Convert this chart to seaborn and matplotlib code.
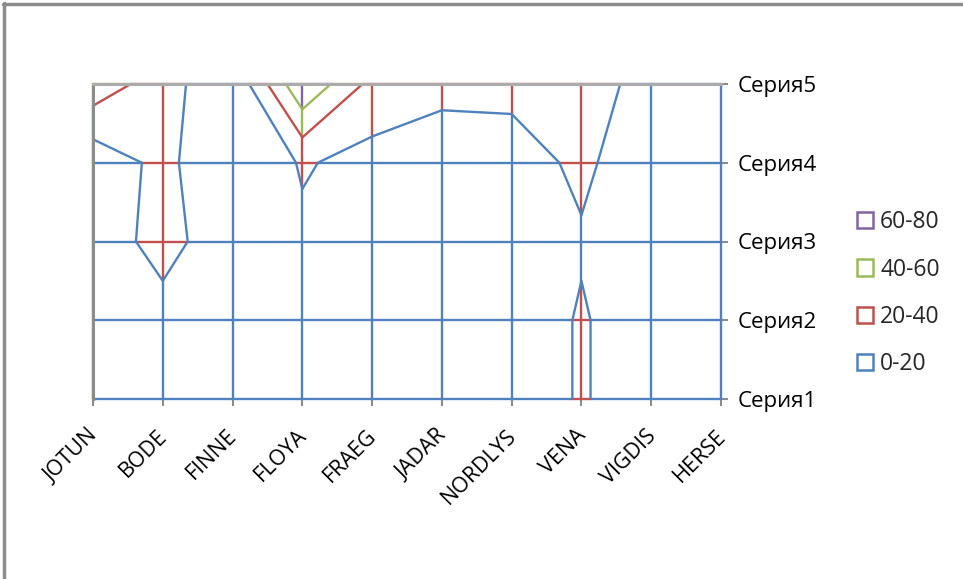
import numpy as np
import pandas as pd
import matplotlib
matplotlib.use("Agg")
import matplotlib.pyplot as plt
import matplotlib.transforms as mtransforms
from matplotlib.patches import Patch
from matplotlib.lines import Line2D
import seaborn as sns

# ---------------- data ----------------
categories = ["JOTUN", "BODE", "FINNE", "FLOYA", "FRAEG", "JADAR", "NORDLYS", "VENA", "VIGDIS", "HERSE"]
series_names = ["Серия1", "Серия2", "Серия3", "Серия4", "Серия5"]
seria1 = [5, 8, 6, 5, 6, 5, 0, 23, 0, 3]
seria2 = [6, 15, 8, 8, 7, 6, 0, 23, 0, 4]
seria3 = [12, 25, 11, 16, 10, 8, 6, 17, 5, 5]
seria4 = [6, 26, 0, 22, 13, 4, 7, 26, 0, 5]
seria5 = [53, 29, 2, 78, 34, 28, 28, 30, 12, 8]
band_labels = ["0-20", "20-40", "40-60", "60-80"]
band_edges = [0, 20, 40, 60, 80]

# ---------------- style ----------------
sns.set_theme(style="white")
plt.rcParams["font.family"] = ["Open Sans", "DejaVu Sans"]
band_colors = ["#4F81BD", "#C0504D", "#9BBB59", "#8064A2"]
gray = "#8C8C8C"
FS = 15.5

Z = np.array([seria1, seria2, seria3, seria4, seria5], dtype=float)
nrow, ncol = Z.shape
levels = band_edges[1:-1]


def band_of(v):
    return int(min(max(v // 20, 0), 3))


# build colored grid segments (wireframe) split at contour levels
rows = []
seg_id = 0


def add_edge(x0, y0, v0, x1, y1, v1):
    global seg_id
    ts = [0.0]
    lo, hi = min(v0, v1), max(v0, v1)
    for L in levels:
        if lo < L < hi:
            ts.append((L - v0) / (v1 - v0))
    ts.append(1.0)
    ts.sort()
    for a, b in zip(ts[:-1], ts[1:]):
        vm = v0 + (a + b) / 2 * (v1 - v0)
        bd = band_labels[band_of(vm)]
        for t in (a, b):
            rows.append({"x": x0 + t * (x1 - x0), "y": y0 + t * (y1 - y0),
                         "seg": seg_id, "band": bd})
        seg_id += 1


for r in range(nrow):
    for c in range(ncol - 1):
        add_edge(c, r, Z[r, c], c + 1, r, Z[r, c + 1])
for c in range(ncol):
    for r in range(nrow - 1):
        add_edge(c, r, Z[r, c], c, r + 1, Z[r + 1, c])

segs = pd.DataFrame(rows)

fig = plt.figure(figsize=(9.63, 5.79), dpi=100)
W, H = 963, 579
ax = fig.add_axes([93 / W, 1 - 399 / H, (721 - 93) / W, (399 - 84) / H])

palette = dict(zip(band_labels, band_colors))
sns.lineplot(data=segs, x="x", y="y", units="seg", hue="band", estimator=None,
             sort=False, palette=palette, legend=False, lw=1.7, ax=ax,
             clip_on=False, zorder=2)

X, Y = np.meshgrid(np.arange(ncol), np.arange(nrow))
ax.contour(X, Y, Z, levels=levels, colors=band_colors[:3], linewidths=1.7, zorder=3)

ax.set_xlim(0, ncol - 1)
ax.set_ylim(0, nrow - 1)
ax.set_xlabel("")
ax.set_ylabel("")

for side in ["right", "bottom"]:
    ax.spines[side].set_visible(False)
for side in ["left", "top"]:
    ax.spines[side].set_visible(True)
    ax.spines[side].set_color(gray)
    ax.spines[side].set_linewidth(2.2)
    ax.spines[side].set_zorder(5)
ax.spines["top"].set_color("#ABABAB")

ax.set_xticks(range(ncol))
ax.set_xticklabels(categories, fontsize=FS, rotation=45, ha="right",
                   rotation_mode="anchor", color="#000000")
ax.yaxis.tick_right()
ax.set_yticks(range(nrow))
ax.set_yticklabels(series_names, fontsize=FS + 0.5, color="#000000")
ax.tick_params(axis="x", which="both", bottom=True, length=5, width=1.5,
               color=gray, direction="out", pad=14)
ax.tick_params(axis="y", which="both", right=True, left=False, length=5,
               width=1.5, color=gray, direction="out", pad=7)
ax.grid(False)

offset = mtransforms.ScaledTranslation(-6 / 100, 0, fig.dpi_scale_trans)
for lbl in ax.get_xticklabels():
    lbl.set_transform(lbl.get_transform() + offset)

handles = [Patch(facecolor="white", edgecolor=band_colors[i], linewidth=1.8,
                 label=band_labels[i]) for i in range(3, -1, -1)]
leg = fig.legend(handles=handles, loc="upper left",
                 bbox_to_anchor=(848 / W, 1 - 201 / H), frameon=False,
                 fontsize=FS + 1, handlelength=0.7, handleheight=0.7,
                 handletextpad=0.3, labelspacing=1.02, borderaxespad=0)

# outer chart border (partially visible)
fig.add_artist(Line2D([4 / W, 4 / W], [0, 1 - 3 / H], transform=fig.transFigure,
                      color=gray, lw=2.5))
fig.add_artist(Line2D([3 / W, 1], [1 - 4 / H, 1 - 4 / H], transform=fig.transFigure,
                      color=gray, lw=2.5))

fig.savefig("out.png", dpi=100)
